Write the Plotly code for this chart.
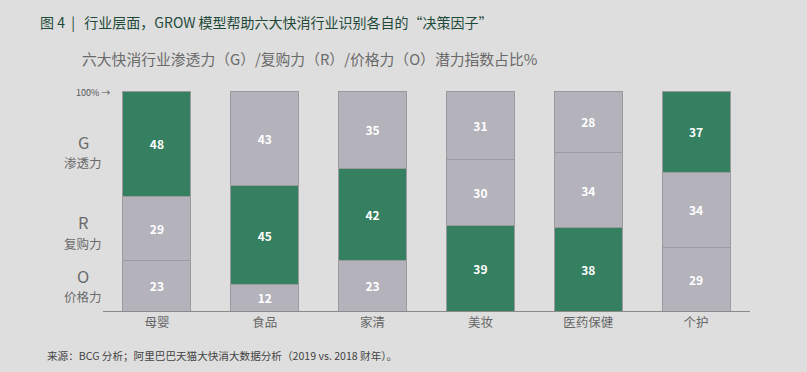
import plotly.graph_objects as go

categories = ["母婴", "食品", "家清", "美妆", "医药保健", "个护"]
o_values = [23, 12, 23, 39, 38, 29]
r_values = [29, 45, 42, 30, 34, 34]
g_values = [48, 43, 35, 31, 28, 37]
decisive = ["G", "R", "R", "O", "O", "G"]

GREEN = "#358060"
GRAY = "#b4b2bb"
FONT = "Noto Sans CJK SC"

fig = go.Figure()
for key, vals in [("O", o_values), ("R", r_values), ("G", g_values)]:
    colors = [GREEN if d == key else GRAY for d in decisive]
    fig.add_trace(go.Bar(
        x=categories, y=vals, name=key,
        marker=dict(color=colors, line=dict(color="#9a9a9f", width=1)),
        text=[str(v) for v in vals], textposition="inside",
        insidetextanchor="middle",
        textfont=dict(color="white", size=12, family=FONT, weight="bold"),
        hoverinfo="skip",
    ))

W, H = 807, 372
L, R, T, B = 103, 57, 91, 61
fig.update_layout(
    barmode="stack", bargap=0.37,
    width=W, height=H,
    paper_bgcolor="#dedede", plot_bgcolor="#dedede",
    margin=dict(l=L, r=R, t=T, b=B),
    showlegend=False,
    font=dict(family=FONT, color="#666666"),
    xaxis=dict(showgrid=False, showline=True, linecolor="#8a8a8a", linewidth=1,
               ticks="", tickfont=dict(size=12.5, color="#666666"), fixedrange=True),
    yaxis=dict(range=[0, 100], showgrid=False, showticklabels=False, zeroline=False,
               showline=False, fixedrange=True),
)

pw = W - L - R
ph = H - T - B
def px(x):
    return (x - L) / pw
def py(y):
    return (H - B - y) / ph

NB = "\u00a0"
annotations = [
    (f"图{NB}4{NB}{NB}|{NB}{NB}{NB}行业层面，GROW 模型帮助六大快消行业识别各自的“决策因子”", 38, 22, 14, "#1f4a3a"),
    ("六大快消行业渗透力（G）/复购力（R）/价格力（O）潜力指数占比%", 80, 58, 14.8, "#6a6a6a"),
    ("来源：BCG 分析；阿里巴巴天猫大快消大数据分析（2019 vs. 2018 财年）。", 45, 355, 10.6, "#444444"),
]
for text, x, y, s, c in annotations:
    fig.add_annotation(text=text, x=px(x), y=py(y),
                       xref="paper", yref="paper", xanchor="left", yanchor="middle",
                       showarrow=False, font=dict(family=FONT, size=s, color=c))

side = [("G", 142, 16.5), ("渗透力", 162, 12.5), ("R", 222, 16.5), ("复购力", 243, 12.5),
        ("O", 276, 16.5), ("价格力", 296, 12.5)]
for t, y, s in side:
    fig.add_annotation(text=t, x=px(83), y=py(y), xref="paper", yref="paper",
                       xanchor="center", yanchor="middle", showarrow=False,
                       font=dict(family=FONT, size=s, color="#6a6a6a"))
fig.add_annotation(text="100% →", x=px(74), y=py(92), xref="paper", yref="paper",
                   xanchor="left", yanchor="middle", showarrow=False,
                   font=dict(family=FONT, size=9, color="#555555"))

fig.write_html("out.html", config={"displayModeBar": False},
               post_script="document.body.style.margin='0';document.body.style.overflow='hidden';")
